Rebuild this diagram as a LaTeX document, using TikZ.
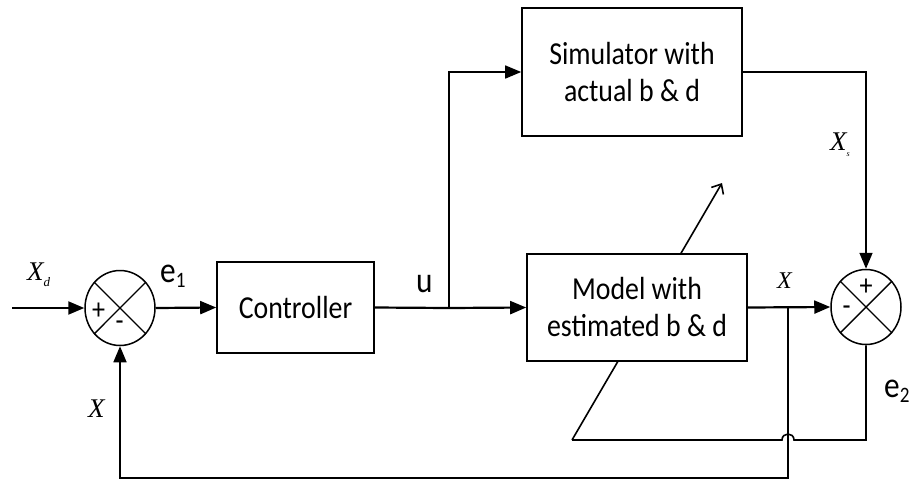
\documentclass[tikz,border=0pt]{standalone}
\usepackage{fontspec}
\setmainfont{Carlito}[FakeStretch=0.87]
\newfontfamily\tnr{Liberation Serif}
\usetikzlibrary{arrows.meta,shapes.geometric}

\newcommand{\blkfont}{\fontsize{32}{37}\selectfont}
\newcommand{\lblfont}{\fontsize{36}{36}\selectfont}
\newcommand{\varfont}{\tnr\itshape\fontsize{27}{27}\selectfont}

\begin{document}
\begin{tikzpicture}[x=1pt,y=-1pt,
  blk/.style={draw,line width=1.6pt,fill=white,inner sep=0pt,font=\blkfont,align=center},
  sumj/.style={draw,ellipse,line width=1.5pt,minimum width=70pt,minimum height=75pt,inner sep=0pt},
  wire/.style={line width=2.2pt},
  fb/.style={line width=1.6pt},
  arr/.style={-{Triangle[length=16pt,width=13pt]}},
  sgn/.style={inner sep=0pt,font=\fontsize{30}{30}\selectfont},
  lbl/.style={inner sep=0pt,anchor=base west}]
\useasboundingbox (0,0) rectangle (911,483);

% adaptation arrow, drawn first so the model block covers its middle
\coordinate (adj) at (572,440);
\coordinate (tip) at (722,183);
\draw[fb,-{Straight Barb[length=8pt,width=14pt]}] (adj) -- (tip);

% blocks
\node[blk,minimum width=157pt,minimum height=91pt] (ctrl) at (295.5,307.5) {Controller};
\node[blk,minimum width=220pt,minimum height=128pt] (sim) at (632,72) {Simulator with\\actual b \& d};
\node[blk,minimum width=220pt,minimum height=107pt] (model) at (637,307.5) {Model with\\estimated b \& d};

% summing junctions
\node[sumj] (s1) at (120,308) {};
\node[sumj] (s2) at (866,307) {};
\foreach \s in {s1,s2}{
  \draw[line width=1.4pt] (\s.45) -- (\s.225);
  \draw[line width=1.4pt] (\s.135) -- (\s.315);
}
\node[sgn] (p1) at (98.5,311) {+};
\node[sgn] (m1) at (119.5,326) {-};
\node[sgn] (p2) at (866,287) {+};
\node[sgn] (m2) at (846.5,311) {-};

% forward path
\coordinate (in) at (12,308);
\coordinate (br) at (449,308);
\draw[wire,arr] (in) -- (s1.west);
\draw[wire,arr] (s1.east) -- (ctrl.west);
\draw[wire] (ctrl.east) -- (br);
\draw[wire,arr] (br) -- (model.west);
\draw[fb,arr] (br) |- (sim.west);
\draw[fb,arr] (sim.east) -| (s2.north);
\draw[wire,arr] (model.east) -- (s2.west);

% output feedback to the first junction
\coordinate (tap) at (788,308);
\coordinate (fbc) at (788,478);
\draw[fb,arr] (tap) -- (fbc) -| (s1.south);

% model error to the adaptation arrow, hopping over the feedback line
\coordinate (e2c) at (866,440);
\draw[fb] (s2.south) -- (e2c) -- (794,440)
  .. controls (794,432) and (782,432) .. (782,440) -- (adj);

% signal labels
\node[lbl,font=\varfont] (xd) at (27,280) {X\raisebox{-6pt}{\fontsize{13}{13}\selectfont d}};
\node[lbl,font=\lblfont] (e1) at (160,282) {e\raisebox{-5pt}{\fontsize{22}{22}\selectfont 1}};
\node[lbl,font=\lblfont] (u) at (416,292) {u};
\node[lbl,font=\tnr\itshape\fontsize{24}{24}\selectfont] (xo) at (777,288) {X};
\node[lbl,font=\varfont] (xs) at (830,150) {X\raisebox{-6pt}{\fontsize{8}{8}\selectfont s}};
\node[lbl,font=\varfont] (xf) at (88,417) {X};
\node[lbl,font=\lblfont] (e2) at (884,397) {e\raisebox{-5pt}{\fontsize{22}{22}\selectfont 2}};
\end{tikzpicture}
\end{document}
